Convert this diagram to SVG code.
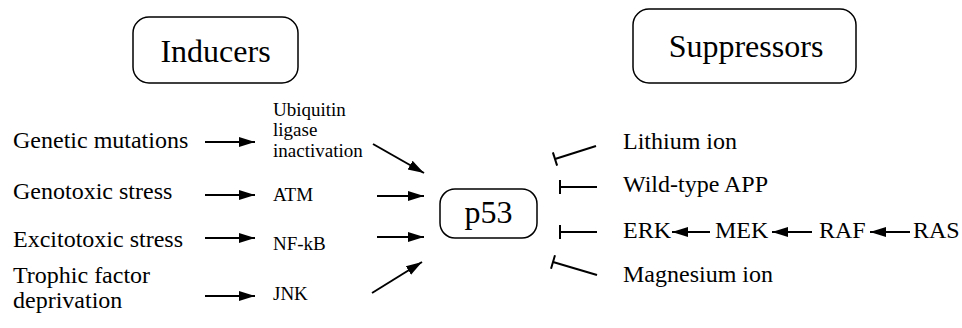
<svg xmlns="http://www.w3.org/2000/svg" width="962" height="328" viewBox="0 0 962 328">
<defs>
<style>
text{font-family:"Liberation Serif","Times New Roman",serif;fill:#000}
.big{font-size:32px}
.med{font-size:24px}
.sm{font-size:19px}
.box{fill:none;stroke:#000;stroke-width:1.5}
.c line{stroke:#000;stroke-width:2}
</style>
<marker id="ah" markerUnits="userSpaceOnUse" markerWidth="16" markerHeight="12" viewBox="0 0 16 12" refX="16" refY="6" orient="auto">
<path d="M0,1 L16,6 L0,11 Z" fill="#000"/>
</marker>
<marker id="bar" markerUnits="userSpaceOnUse" markerWidth="4" markerHeight="14" viewBox="0 0 4 14" refX="2" refY="7" orient="auto">
<path d="M2,0 L2,14" stroke="#000" stroke-width="2"/>
</marker>
</defs>
<g id="inducers"><rect class="box" x="133" y="17" width="165" height="66" rx="16"/><text class="big" x="215.5" y="62" text-anchor="middle">Inducers</text></g>
<g id="suppressors"><rect class="box" x="633" y="9" width="223" height="74" rx="16"/><text class="big" x="746" y="57" text-anchor="middle">Suppressors</text></g>
<g id="p53"><rect class="box" x="440" y="189" width="97" height="49" rx="15"/><text class="big" x="488.5" y="223" text-anchor="middle">p53</text></g>
<g id="genetic"><text class="med" x="13" y="148">Genetic mutations</text></g>
<g id="genotoxic"><text class="med" x="13" y="199">Genotoxic stress</text></g>
<g id="excitotoxic"><text class="med" x="13" y="247">Excitotoxic stress</text></g>
<g id="trophic"><text class="med" x="13" y="283">Trophic factor</text><text class="med" x="13" y="308">deprivation</text></g>
<g id="ubiquitin"><text class="sm" x="273" y="116">Ubiquitin</text><text class="sm" x="273" y="136">ligase</text><text class="sm" x="273" y="157">inactivation</text></g>
<g id="atm"><text class="sm" x="273" y="201">ATM</text></g>
<g id="nfkb"><text class="sm" x="273" y="250">NF-kB</text></g>
<g id="jnk"><text class="sm" x="273" y="300">JNK</text></g>
<g id="lithium"><text class="med" x="623" y="149">Lithium ion</text></g>
<g id="app"><text class="med" x="623" y="192">Wild-type APP</text></g>
<g id="erk"><text class="med" x="623" y="238">ERK</text></g>
<g id="mek"><text class="med" x="715" y="238">MEK</text></g>
<g id="raf"><text class="med" x="819" y="238">RAF</text></g>
<g id="ras"><text class="med" x="913" y="238">RAS</text></g>
<g id="magnesium"><text class="med" x="623" y="282">Magnesium ion</text></g>
<g id="connectors" class="c">
<line x1="205" y1="142" x2="255" y2="142" marker-end="url(#ah)"/>
<line x1="205" y1="195" x2="255" y2="195" marker-end="url(#ah)"/>
<line x1="205" y1="238" x2="255" y2="238" marker-end="url(#ah)"/>
<line x1="205" y1="296" x2="255" y2="296" marker-end="url(#ah)"/>
<line x1="373" y1="144" x2="424" y2="173" marker-end="url(#ah)"/>
<line x1="377" y1="196" x2="424" y2="196" marker-end="url(#ah)"/>
<line x1="377" y1="237" x2="424" y2="237" marker-end="url(#ah)"/>
<line x1="372" y1="293" x2="422" y2="262" marker-end="url(#ah)"/>
<line x1="596" y1="146" x2="555" y2="159" marker-end="url(#bar)"/>
<line x1="597" y1="187" x2="560" y2="187" marker-end="url(#bar)"/>
<line x1="597" y1="232" x2="560" y2="232" marker-end="url(#bar)"/>
<line x1="597" y1="275" x2="553" y2="262" marker-end="url(#bar)"/>
<line x1="710" y1="232" x2="672" y2="232" marker-end="url(#ah)"/>
<line x1="812" y1="232" x2="772" y2="232" marker-end="url(#ah)"/>
<line x1="910" y1="232" x2="870" y2="232" marker-end="url(#ah)"/>
</g>
</svg>
